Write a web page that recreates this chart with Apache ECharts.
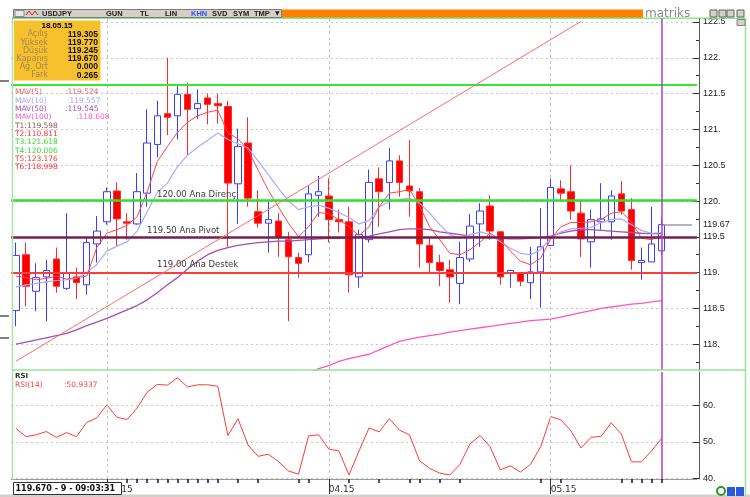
<!DOCTYPE html>
<html>
<head>
<meta charset="utf-8">
<script src="https://cdn.jsdelivr.net/npm/echarts@6/dist/echarts.min.js"></script>
<style>
html, body { margin: 0; padding: 0; background: #fff; }
#chart { width: 750px; height: 497px; }
</style>
</head>
<body>
<div id="chart"></div>
<script>
// categories: daily candles 17.02.15 .. 18.05.15 plus 3 empty days on the right
const dates = [
  "2015-02-17","2015-02-18","2015-02-19","2015-02-20","2015-02-23","2015-02-24","2015-02-25","2015-02-26","2015-02-27",
  "2015-03-02","2015-03-03","2015-03-04","2015-03-05","2015-03-06","2015-03-09","2015-03-10","2015-03-11","2015-03-12","2015-03-13",
  "2015-03-16","2015-03-17","2015-03-18","2015-03-19","2015-03-20","2015-03-23","2015-03-24","2015-03-25","2015-03-26","2015-03-27",
  "2015-03-30","2015-03-31",
  "2015-04-01","2015-04-02","2015-04-03","2015-04-06","2015-04-07","2015-04-08","2015-04-09","2015-04-10","2015-04-13","2015-04-14",
  "2015-04-15","2015-04-16","2015-04-17","2015-04-20","2015-04-21","2015-04-22","2015-04-23","2015-04-24","2015-04-27","2015-04-28",
  "2015-04-29","2015-04-30",
  "2015-05-01","2015-05-04","2015-05-05","2015-05-06","2015-05-07","2015-05-08","2015-05-11","2015-05-12","2015-05-13","2015-05-14",
  "2015-05-15","2015-05-18",
  "2015-05-19","2015-05-20","2015-05-21"
];

const opens = [
  118.47,119.25,118.74,118.94,119.19,118.78,118.94,118.83,119.40,119.71,
  120.14,119.71,119.68,120.11,120.79,121.22,121.19,121.49,121.29,121.44,
  121.36,121.32,120.24,120.81,119.85,119.69,119.72,119.46,119.21,119.25,
  120.08,120.07,119.74,119.71,118.94,119.46,120.31,120.26,120.56,120.21,
  120.13,119.38,119.14,119.04,118.85,119.19,119.68,119.93,119.57,119.00,
  119.00,118.86,119.01,119.38,120.17,120.13,119.83,119.43,119.71,119.71,
  120.10,119.88,119.14,119.15,119.305
];
const closes = [
  119.24,118.81,118.93,119.03,118.81,118.99,118.86,119.42,119.58,120.13,
  119.75,119.69,120.13,120.81,121.19,121.17,121.49,121.28,121.36,121.35,
  121.33,120.25,120.76,120.04,119.69,119.74,119.49,119.22,119.13,120.10,
  120.13,119.74,119.71,118.97,119.53,120.26,120.13,120.56,120.26,120.14,
  119.40,119.14,119.03,118.94,119.21,119.65,119.86,119.58,118.94,119.03,
  118.88,119.01,119.36,120.19,120.11,119.86,119.47,119.74,119.75,120.07,
  119.86,119.17,119.17,119.40,119.67
];
const highs = [
  119.42,119.42,119.13,119.18,119.35,119.83,119.07,119.50,119.79,120.19,
  120.26,119.83,120.39,121.28,121.40,122.00,121.61,121.65,121.56,121.50,
  121.50,121.40,121.01,121.17,120.15,119.99,119.83,119.57,119.28,120.22,
  120.35,120.32,119.88,119.92,119.60,120.44,120.47,120.74,120.64,120.85,
  120.18,119.50,119.25,119.18,119.43,119.82,119.97,120.08,119.58,119.04,
  119.01,119.36,119.90,120.31,120.29,120.50,120.01,119.88,120.25,120.15,
  120.28,120.04,119.35,119.92,119.77
];
const lows = [
  118.25,118.53,118.46,118.32,118.72,118.76,118.63,118.69,119.14,119.67,
  119.36,119.46,119.67,119.92,120.61,120.92,120.86,120.64,121.14,121.07,
  121.08,119.36,119.68,119.92,119.63,119.28,119.22,118.32,118.93,119.14,
  119.78,119.42,119.56,118.72,118.79,119.42,119.64,119.88,120.06,119.78,
  119.07,119.00,118.81,118.58,118.56,119.15,119.36,119.46,118.83,118.79,
  118.81,118.63,118.51,119.38,119.99,119.74,119.22,119.07,119.60,119.46,
  119.81,119.04,118.90,119.15,119.245
];

const mav5 = [
  118.95,118.93,118.90,118.92,118.95,118.91,118.93,118.95,119.35,119.55,
  119.60,119.66,119.78,120.13,120.55,120.76,120.96,121.10,121.19,121.24,
  121.27,120.95,120.87,120.71,120.43,120.15,119.92,119.69,119.50,119.64,
  119.84,119.82,119.74,119.64,119.52,119.64,119.92,120.11,120.13,120.16,
  119.93,119.64,119.46,119.27,119.25,119.32,119.43,119.55,119.46,119.30,
  119.16,119.11,119.20,119.47,119.64,119.70,119.70,119.71,119.74,119.83,
  119.85,119.71,119.48,119.46,119.52
];
const mav10 = [
  118.80,118.83,118.85,118.87,118.89,118.90,118.92,119.00,119.11,119.30,
  119.37,119.43,119.58,119.85,120.12,120.25,120.48,120.64,120.75,120.85,
  120.95,120.86,120.80,120.74,120.56,120.37,120.18,120.00,119.88,119.92,
  119.94,119.90,119.84,119.77,119.68,119.73,119.92,119.99,120.02,120.04,
  119.97,119.83,119.67,119.53,119.48,119.53,119.57,119.53,119.43,119.34,
  119.27,119.25,119.32,119.48,119.57,119.61,119.62,119.63,119.70,119.74,
  119.75,119.67,119.59,119.55,119.56
];
const mav50 = [
  118.00,118.03,118.06,118.09,118.12,118.15,118.20,118.26,118.31,118.36,
  118.42,118.48,118.54,118.62,118.72,118.83,118.93,119.05,119.16,119.25,
  119.31,119.35,119.38,119.40,119.42,119.43,119.44,119.44,119.45,119.46,
  119.47,119.48,119.48,119.49,119.50,119.51,119.54,119.57,119.60,119.61,
  119.61,119.60,119.57,119.55,119.53,119.51,119.50,119.50,119.48,119.47,
  119.47,119.48,119.49,119.51,119.55,119.58,119.60,119.60,119.59,119.58,
  119.57,119.56,119.55,119.545,119.545
];
const mav100 = [
  null,null,null,null,null,null,null,null,null,null,
  null,null,null,null,null,null,null,null,null,null,
  null,null,null,null,null,null,null,null,null,117.60,
  117.66,117.70,117.76,117.80,117.83,117.86,117.92,117.98,118.04,118.07,
  118.10,118.12,118.14,118.17,118.19,118.21,118.23,118.25,118.27,118.29,
  118.31,118.33,118.34,118.35,118.38,118.41,118.44,118.47,118.50,118.52,
  118.54,118.56,118.57,118.59,118.608
];
const rsi14 = [
  53.6,51.4,51.9,52.8,51.2,52.5,51.4,55.3,56.5,60.1,
  56.7,56.1,59.2,63.6,65.7,65.5,67.5,65.0,65.6,65.6,
  65.2,51.7,56.3,49.1,46.0,46.6,44.6,42.0,41.1,51.6,
  51.9,48.0,47.5,40.9,47.5,53.8,52.7,56.3,53.2,51.9,
  44.8,42.7,41.4,40.9,43.8,49.4,51.7,48.6,42.3,43.4,
  41.7,43.8,48.6,56.9,56.0,53.0,48.3,51.2,51.5,55.2,
  52.1,44.5,44.5,47.5,50.93
];

// levels drawn on the chart
const levelT3 = 121.618;
const levelDirenc = 120.006;
const levelPivot = 119.50;
const levelDestek = 118.998;
const lastPrice = 119.67;
const trendFrom = [0, 117.763];
const trendTo = [56, 122.508];

// tick labels
const priceTicks = [118, 118.5, 119, 119.5, 120, 120.5, 121, 121.5, 122, 122.5];
const priceLabels = [118, 118.5, 119, 119.5, 119.67, 120, 120.5, 121, 121.5, 122, 122.5];
const priceMinor = [117.75, 118.25, 118.75, 119.25, 119.75, 120.25, 120.75, 121.25, 121.75, 122.25];
const rsiTicks = [40, 50, 60];
const monthStarts = [9, 31, 53];
const dayMarks = [11,12,13,14,15,16,17,18,19,20,22,24,28,29,33,36,39,40,42,44,52,54,60,61,62,63,64];

// texts
const infoDate = "18.05.15";
const infoLabels = ["Açılış", "Yüksek", "Düşük", "Kapanış", "Ağ. Ort", "Fark"];
const infoValues = ["119.305", "119.770", "119.245", "119.670", "0.000", "0.265"];
const legendNames = ["MAV(5)", "MAV(10)", "MAV(50)", "MAV(100)"];
const legendValues = [":119.524", ":119.557", ":119.545", ":118.608"];
const targetLines = ["T1:119.598", "T2:110.811", "T3:121.618", "T4:120.006", "T5:123.176", "T6:118.998"];
const tabNames = ["USDJPY", "GUN", "TL", "LIN", "KHN", "SVD", "SYM", "TMP"];
const statusText = "119.670 - 9 - 09:03:31";

const F = "DejaVu Sans";
const L = "Liberation Sans";

let chartDom = document.getElementById("chart");
let myChart = echarts.init(chartDom);

function txt(x, y, s, st) {
  return {
    type: "text", x: x, y: y, z: 100, silent: true,
    style: Object.assign({
      text: s, fill: "#000", font: "8px 'DejaVu Sans'",
      verticalAlign: "middle", textVerticalAlign: "middle"
    }, st || {})
  };
}
function ln(x1, y1, x2, y2, color, w) {
  return { type: "line", z: 90, silent: true, shape: { x1: x1, y1: y1, x2: x2, y2: y2 },
    style: { stroke: color, lineWidth: w || 1 } };
}
function rc(x, y, w, h, fill, stroke) {
  return { type: "rect", z: 95, silent: true, shape: { x: x, y: y, width: w, height: h },
    style: { fill: fill, stroke: stroke || null, lineWidth: 1 } };
}

let graphics = [];
// frame
graphics.push(ln(12.5, 18, 12.5, 480, "#a8e4a8", 1.5));
graphics.push(ln(12, 18, 746, 18, "#5ee05e", 1.5));
graphics.push(ln(12, 370, 746, 370, "#94e494", 1.5));
graphics.push(ln(745.5, 18, 745.5, 497, "#94e494", 1.5));
graphics.push(ln(0, 81, 9, 81, "#000", 1));
graphics.push(ln(0, 316, 9, 316, "#000", 1));
graphics.push(ln(0, 338, 9, 338, "#000", 1));

// toolbar
graphics.push(rc(13.5, 9.5, 268, 8, "#d4d0c8", "#7c7c7c"));
graphics.push(rc(15, 10.5, 9, 6, "#e8e8e8", "#909090"));
graphics.push({ type: "polyline", z: 96, silent: true,
  shape: { points: [[26, 15], [29, 11], [32, 15], [35, 11], [38, 15]] },
  style: { stroke: "#d02020", lineWidth: 1, fill: null } });
const tabEdges = [100, 126, 160, 189, 208, 231, 252, 273, 281];
tabEdges.forEach(function (x) { graphics.push(ln(x + 0.5, 9.5, x + 0.5, 17.5, "#404040", 1)); });
const tabTextX = [42, 106, 140, 165, 191, 212, 233, 254];
tabNames.forEach(function (t, i) {
  graphics.push(txt(tabTextX[i], 13.8, t, {
    font: "bold 7.5px 'Liberation Sans'", fill: t === "KHN" ? "#3050ff" : "#202020" }));
});
graphics.push(txt(275, 13.8, "▼", { font: "6px 'DejaVu Sans'", fill: "#202020" }));
graphics.push(rc(282, 9.5, 361, 8, "#ff8000"));
graphics.push(rc(643, 9.5, 103, 8, "#ffffff"));
graphics.push(txt(645, 13.5, "matriks", { font: "12px 'DejaVu Sans'", fill: "#8a8a8a" }));
[710, 719, 727, 737].forEach(function (x) { graphics.push(rc(x, 10, 7, 7, "#d4d0c8", "#606060")); });
graphics.push(rc(737, 19.5, 8, 6, "#d4d0c8", "#808080"));

// info box
graphics.push(rc(14, 20.5, 86.5, 60, "#f7c12e"));
graphics.push(txt(57, 26, infoDate, { font: "bold 8px 'Liberation Sans'", align: "center", textAlign: "center" }));
infoLabels.forEach(function (t, i) {
  let y = 34.3 + i * 8.2;
  graphics.push(txt(48, y, t, { font: "8px 'DejaVu Sans'", fill: "#a28450", align: "right", textAlign: "right" }));
  graphics.push(txt(98, y, infoValues[i], { font: "bold 8.5px 'Liberation Sans'", fill: "#111", align: "right", textAlign: "right" }));
});

// MA legend
const legendColors = ["#ff5a5a", "#a4a4ff", "#a050a8", "#ff55c4"];
const legendValX = [65, 67, 65, 76];
legendNames.forEach(function (t, i) {
  let y = 92.3 + i * 8.3;
  graphics.push(txt(15, y, t, { font: "7.5px 'DejaVu Sans'", fill: legendColors[i] }));
  graphics.push(txt(legendValX[i], y, legendValues[i], { font: "7.5px 'DejaVu Sans'", fill: legendColors[i] }));
});
const targetColors = ["#8a5a5a", "#ff3434", "#36d836", "#36d836", "#ff3434", "#ff3434"];
targetLines.forEach(function (t, i) {
  graphics.push(txt(15, 125.7 + i * 8.3, t, { font: "7.5px 'DejaVu Sans'", fill: targetColors[i] }));
});

// RSI legend
graphics.push(txt(15, 376.5, "RSI", { font: "bold 7px 'DejaVu Sans'", fill: "#303030" }));
graphics.push(txt(15, 385, "RSI(14)", { font: "7.5px 'DejaVu Sans'", fill: "#ff4040" }));
graphics.push(txt(64, 385, ":50.9337", { font: "7.5px 'DejaVu Sans'", fill: "#ff4040" }));

// status bar
graphics.push(rc(0, 494.5, 750, 3, "#d4d0c8"));
graphics.push(rc(13.5, 482.5, 108, 12, "#ffffff", "#303030"));
graphics.push(txt(15.5, 489, statusText, { font: "bold 8px 'DejaVu Sans'", fill: "#111" }));
graphics.push({ type: "circle", z: 96, silent: true, shape: { cx: 721, cy: 491, r: 4 },
  style: { fill: "#ffffff", stroke: "#2a9a2a", lineWidth: 2 } });
graphics.push(rc(727, 487, 8, 9, "#2a5ad8"));
graphics.push(rc(736, 487, 8, 9, "#2a5ad8"));

function fmtPrice(v) {
  let r = Math.round(v * 100) / 100;
  return Math.abs(r - Math.round(r)) < 1e-9 ? Math.round(r) + "." : String(r);
}

const levelLabel = function (text, dx, dy) {
  return { show: true, formatter: text, position: "insideStartTop", distance: [dx, dy],
    color: "#3a3a3a", fontSize: 8.5, fontFamily: F };
};

let candleData = opens.map(function (o, i) { return [o, closes[i], lows[i], highs[i]]; });

let option = {
  animation: false,
  backgroundColor: "#ffffff",
  textStyle: { fontFamily: F },
  grid: [
    { left: 11, right: 53, top: 18, height: 352 },
    { left: 11, right: 53, top: 372, height: 107 }
  ],
  xAxis: [
    { type: "category", gridIndex: 0, data: dates, boundaryGap: true,
      axisLine: { show: false }, axisTick: { show: false }, axisLabel: { show: false }, splitLine: { show: false } },
    { type: "category", gridIndex: 1, data: dates, boundaryGap: true, position: "bottom",
      axisLine: { show: true, lineStyle: { color: "#9a9a9a", width: 1 } },
      axisTick: { show: true, alignWithLabel: true, length: 4, inside: false,
        interval: function (i) { return dayMarks.indexOf(i) >= 0; },
        lineStyle: { color: "#1a1a1a", width: 1.5 } },
      axisLabel: { show: true, align: "left", margin: 6, fontSize: 9, fontFamily: F, color: "#303030",
        interval: function (i) { return monthStarts.indexOf(i) >= 0; },
        formatter: function (v) { return v.slice(5, 7) + "." + v.slice(2, 4); } },
      splitLine: { show: false } },
    { type: "category", gridIndex: 1, data: dates, boundaryGap: true, position: "bottom",
      axisLine: { show: false },
      axisTick: { show: true, alignWithLabel: true, length: 15,
        interval: function (i) { return monthStarts.indexOf(i) >= 0; },
        lineStyle: { color: "#303030", width: 1 } },
      axisLabel: { show: false }, splitLine: { show: false } }
  ],
  yAxis: [
    { type: "value", gridIndex: 0, position: "right", offset: 2, min: 117.64, max: 122.556, scale: true,
      axisLine: { show: true, lineStyle: { color: "#5a5a5a", width: 1 } },
      axisTick: { show: true, inside: true, length: 6, customValues: priceTicks, lineStyle: { color: "#303030" } },
      axisLabel: { show: true, customValues: priceLabels, margin: 4, fontSize: 9, fontFamily: L,
        color: "#202020", formatter: fmtPrice },
      splitLine: { show: true, lineStyle: { color: "#c8c8c8", type: [2, 3], width: 1 } } },
    { type: "value", gridIndex: 0, position: "right", offset: 2, min: 117.64, max: 122.556, scale: true,
      axisLine: { show: false },
      axisTick: { show: true, inside: true, length: 3, customValues: priceMinor, lineStyle: { color: "#303030" } },
      axisLabel: { show: false }, splitLine: { show: false } },
    { type: "value", gridIndex: 1, position: "right", offset: 2, min: 39.8, max: 69.1, scale: true,
      axisLine: { show: true, lineStyle: { color: "#5a5a5a", width: 1 } },
      axisTick: { show: true, inside: true, length: 6, customValues: rsiTicks, lineStyle: { color: "#303030" } },
      axisLabel: { show: true, customValues: rsiTicks, margin: 4, fontSize: 9, fontFamily: L,
        color: "#202020", formatter: function (v) { return v + "."; } },
      splitLine: { show: true, lineStyle: { color: "#c8c8c8", type: [2, 3], width: 1 } } }
  ],
  series: [
    {
      name: "USDJPY", type: "candlestick", xAxisIndex: 0, yAxisIndex: 0, data: candleData,
      barWidth: 7, z: 2,
      itemStyle: { color: "#ffffff", color0: "#ff0000", borderColor: "#3c3cff", borderColor0: "#ff2a2a", borderWidth: 1 },
      markLine: {
        silent: true, symbol: ["none", "none"], animation: false, label: { show: false },
        data: [
          { yAxis: levelT3, lineStyle: { color: "#34e834", width: 2, type: "solid" } },
          { yAxis: levelDirenc, lineStyle: { color: "#2fe02f", width: 2.5, type: "solid" },
            label: levelLabel("120.00 Ana Direnç", 146, 1) },
          { yAxis: levelPivot, lineStyle: { color: "#7a1f4a", width: 2.5, type: "solid" },
            label: levelLabel("119.50 Ana Pivot", 136, 2) },
          { yAxis: levelDestek, lineStyle: { color: "#ff3c3c", width: 2, type: "solid" },
            label: levelLabel("119.00 Ana Destek", 146, 3) },
          [{ coord: trendFrom, lineStyle: { color: "#ff6a6a", width: 1, type: "solid" } }, { coord: trendTo }],
          [{ coord: [64, lastPrice], lineStyle: { color: "#9a9aac", width: 1.5, type: "solid" } }, { coord: [67, lastPrice] }],
          { xAxis: 64, lineStyle: { color: "#b040c0", width: 1.5, type: "solid" } }
        ]
      }
    },
    {
      name: "MAV(100)", type: "line", xAxisIndex: 0, yAxisIndex: 0, data: mav100, z: 3,
      symbol: "none", showSymbol: false, lineStyle: { color: "#ff55c4", width: 1.3 },
      markLine: {
        silent: true, symbol: ["none", "none"], animation: false, z: 1, label: { show: false },
        lineStyle: { color: "#c4c4c4", type: [3, 3], width: 1 },
        data: monthStarts.map(function (i) { return { xAxis: i }; })
      }
    },
    { name: "MAV(50)", type: "line", xAxisIndex: 0, yAxisIndex: 0, data: mav50, z: 3,
      symbol: "none", showSymbol: false, lineStyle: { color: "#a050b0", width: 1.3 } },
    { name: "MAV(10)", type: "line", xAxisIndex: 0, yAxisIndex: 0, data: mav10, z: 3,
      symbol: "none", showSymbol: false, lineStyle: { color: "#aaaaff", width: 1.2 } },
    { name: "MAV(5)", type: "line", xAxisIndex: 0, yAxisIndex: 0, data: mav5, z: 3,
      symbol: "none", showSymbol: false, lineStyle: { color: "#ff4646", width: 1 } },
    {
      name: "RSI(14)", type: "line", xAxisIndex: 1, yAxisIndex: 2, data: rsi14, z: 3,
      symbol: "none", showSymbol: false, lineStyle: { color: "#ff3a3a", width: 1 },
      markLine: {
        silent: true, symbol: ["none", "none"], animation: false, label: { show: false },
        data: [
          { xAxis: 9, lineStyle: { color: "#c4c4c4", type: [3, 3], width: 1 } },
          { xAxis: 31, lineStyle: { color: "#c4c4c4", type: [3, 3], width: 1 } },
          { xAxis: 53, lineStyle: { color: "#c4c4c4", type: [3, 3], width: 1 } },
          { xAxis: 64, lineStyle: { color: "#b040c0", width: 1.5, type: "solid" } }
        ]
      }
    }
  ],
  graphic: { elements: graphics }
};

option && myChart.setOption(option);
</script>
</body>
</html>
